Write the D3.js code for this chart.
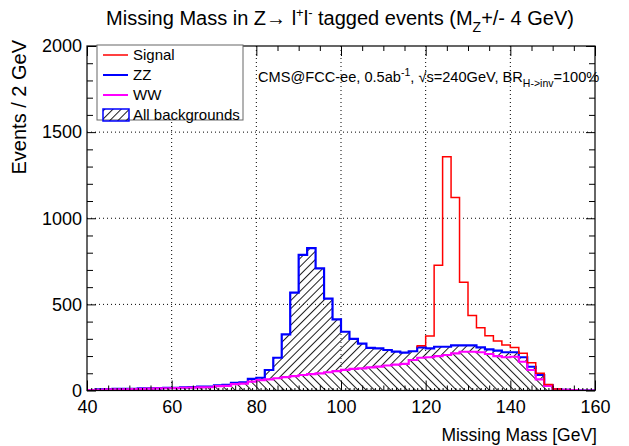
<!DOCTYPE html>
<html><head><meta charset="utf-8">
<script src="https://cdn.jsdelivr.net/npm/d3@7"></script>
<style>
body{margin:0;background:#fff}
text{font-family:"Liberation Sans",Arial,Helvetica,sans-serif}
</style>
</head><body>
<svg id="c" width="629" height="446"></svg>
<script>
// ---- data (2 GeV bins, lower edges) ----
const binLow = [40,42,44,46,48,50,52,54,56,58,60,62,64,66,68,70,72,74,76,78,
  80,82,84,86,88,90,92,94,96,98,100,102,104,106,108,110,112,114,116,118,
  120,122,124,126,128,130,132,134,136,138,140,142,144,146,148,150,152,154,156,158];
const binWidth = 2;
// All backgrounds (ZZ + WW stacked), blue outline
const totalBkg = [3,6,8,9,9,10,12,13,14,15,16,18,20,22,23,30,33,45,48,68,
  74,119,190,326,568,787,827,709,533,413,341,300,272,248,245,235,226,220,228,250,
  245,254,254,262,262,262,250,239,231,222,222,193,138,90,32,7,4,3,0,0];
// WW, magenta
const wwBkg = [2,4,6,6,7,8,10,11,12,13,14,16,17,18,19,25,27,37,40,52,
  60,65,71,78,84,90,95,100,106,113,120,125,129,134,139,145,150,155,177,190,
  193,200,206,216,225,225,222,212,200,193,196,167,119,65,26,7,4,2,0,0];
// Signal (drawn on top of backgrounds), red
const signalLow = [118,120,122,124,126,128,130,132,134,136,138,140,142,144,146,148,150];
const signalLine = [260,316,727,1357,1121,628,436,365,318,287,264,250,216,161,100,35,9];

const xMajor = [40,60,80,100,120,140,160];
const yMajor = [0,500,1000,1500,2000];
const legendLabels = ["Signal","ZZ","WW","All backgrounds"];

// ---- layout ----
const svg = d3.select("#c");
const L = 87, R = 595, T = 46, B = 390.5;
const x = d3.scaleLinear().domain([40,160]).range([L,R]);
const y = d3.scaleLinear().domain([0,2000]).range([B,T]);

const defs = svg.append("defs");
function hatch(id, angle){
  const p = defs.append("pattern").attr("id",id).attr("patternUnits","userSpaceOnUse")
    .attr("width",5.8).attr("height",10).attr("patternTransform","rotate("+angle+")");
  p.append("line").attr("x1",0.5).attr("y1",-1).attr("x2",0.5).attr("y2",11)
    .attr("stroke","#000").attr("stroke-width",0.9);
}
hatch("hFwd",45);
hatch("hBack",-45);
defs.append("clipPath").attr("id","clip").append("rect")
  .attr("x",L).attr("y",T).attr("width",R-L).attr("height",B-T);

// grid
const g = svg.append("g");
g.selectAll(".gx").data(xMajor.slice(1,-1)).enter().append("line")
  .attr("x1",d=>x(d)).attr("x2",d=>x(d)).attr("y1",T).attr("y2",B)
  .attr("stroke","#000").attr("stroke-width",1).attr("stroke-dasharray","1,3");
g.selectAll(".gy").data(yMajor.slice(1,-1)).enter().append("line")
  .attr("x1",L).attr("x2",R).attr("y1",d=>y(d)).attr("y2",d=>y(d))
  .attr("stroke","#000").attr("stroke-width",1).attr("stroke-dasharray","1,3");

function steps(lows, vals){
  const pts = [];
  lows.forEach((lo,i)=>{ pts.push([lo,vals[i]]); pts.push([lo+binWidth,vals[i]]); });
  return pts;
}
const area = d3.area().x(d=>x(d[0])).y0(y(0)).y1(d=>y(d[1]));
const line = d3.line().x(d=>x(d[0])).y(d=>y(d[1]));

const plot = svg.append("g").attr("clip-path","url(#clip)");
const totPts = steps(binLow,totalBkg);
const wwPts = steps(binLow,wwBkg);
plot.append("path").attr("d",area(totPts)).attr("fill","url(#hFwd)");
plot.append("path").attr("d",area(wwPts)).attr("fill","#fff");
plot.append("path").attr("d",area(wwPts)).attr("fill","url(#hBack)");

const totLine = [[40,0]].concat(totPts,[[160,0]]);
const wwLine = [[40,0]].concat(wwPts,[[160,0]]);
plot.append("path").attr("d",line(totLine)).attr("fill","none")
  .attr("stroke","#0000ff").attr("stroke-width",2.2);
plot.append("path").attr("d",line(wwLine)).attr("fill","none")
  .attr("stroke","#ff00ff").attr("stroke-width",2.2);

const sigIdx0 = binLow.indexOf(signalLow[0]);
const sigIdx1 = binLow.indexOf(signalLow[signalLow.length-1]) + 1;
const sigPts = [[signalLow[0], totalBkg[sigIdx0]]].concat(
  steps(signalLow,signalLine), [[signalLow[signalLow.length-1]+binWidth, totalBkg[sigIdx1]]]);
plot.append("path").attr("d",line(sigPts)).attr("fill","none")
  .attr("stroke","#ff0000").attr("stroke-width",1.5);

// axes (ticks inside)
const fs = 18;
function styleAxis(sel){ sel.select(".domain").remove(); sel.selectAll("line").attr("stroke","#000"); }
const xb = svg.append("g").attr("transform","translate(0,"+B+")")
  .call(d3.axisBottom(x).tickValues(xMajor).tickSize(-10).tickPadding(10).tickFormat(d3.format("d")));
styleAxis(xb);
xb.selectAll("text").attr("font-size",fs).attr("fill","#000").attr("font-family","Liberation Sans, Arial, sans-serif");
svg.append("g").attr("transform","translate(0,"+B+")")
  .call(d3.axisBottom(x).tickValues(d3.range(45,160,5).filter(v=>v%20!==0)).tickSize(-5).tickFormat("")).call(styleAxis);
svg.append("g").attr("transform","translate(0,"+B+")")
  .call(d3.axisBottom(x).tickValues(d3.range(41,160,1).filter(v=>v%5!==0)).tickSize(-2.5).tickFormat("")).call(styleAxis);
// top ticks
svg.append("g").attr("transform","translate(0,"+T+")")
  .call(d3.axisTop(x).tickValues(xMajor).tickSize(-10).tickFormat("")).call(styleAxis);
svg.append("g").attr("transform","translate(0,"+T+")")
  .call(d3.axisTop(x).tickValues(d3.range(45,160,5).filter(v=>v%20!==0)).tickSize(-5).tickFormat("")).call(styleAxis);

const yl = svg.append("g").attr("transform","translate("+L+",0)")
  .call(d3.axisLeft(y).tickValues(yMajor).tickSize(-9).tickPadding(5).tickFormat(d3.format("d")));
styleAxis(yl);
yl.selectAll("text").attr("font-size",fs).attr("fill","#000").attr("font-family","Liberation Sans, Arial, sans-serif");
svg.append("g").attr("transform","translate("+L+",0)")
  .call(d3.axisLeft(y).tickValues(d3.range(100,2000,100).filter(v=>v%500!==0)).tickSize(-6).tickFormat("")).call(styleAxis);
svg.append("g").attr("transform","translate("+R+",0)")
  .call(d3.axisRight(y).tickValues(yMajor).tickSize(-9).tickFormat("")).call(styleAxis);
svg.append("g").attr("transform","translate("+R+",0)")
  .call(d3.axisRight(y).tickValues(d3.range(100,2000,100).filter(v=>v%500!==0)).tickSize(-6).tickFormat("")).call(styleAxis);

// frame
svg.append("rect").attr("x",L).attr("y",T).attr("width",R-L).attr("height",B-T)
  .attr("fill","none").attr("stroke","#000").attr("stroke-width",1.2);

// axis titles
svg.append("text").attr("x",597).attr("y",441).attr("text-anchor","end")
  .attr("font-size",17.5).text("Missing Mass [GeV]");
svg.append("text").attr("transform","translate(26,40) rotate(-90)").attr("text-anchor","end")
  .attr("font-size",20).text("Events / 2 GeV");

// title
const title = svg.append("text").attr("x",340).attr("y",25).attr("text-anchor","middle").attr("font-size",20);
title.append("tspan").text("Missing Mass in Z\u2192 l");
title.append("tspan").attr("font-size",13).attr("dy",-8).text("+");
title.append("tspan").attr("dy",8).text("l");
title.append("tspan").attr("font-size",13).attr("dy",-8).text("-");
title.append("tspan").attr("dy",8).text(" tagged events (M");
title.append("tspan").attr("font-size",14).attr("dy",7).text("Z");
title.append("tspan").attr("dy",-7).text("+/- 4 GeV)");

// annotation
const ann = svg.append("text").attr("x",258).attr("y",82).attr("font-size",14.6);
ann.append("tspan").text("CMS@FCC-ee, 0.5ab");
ann.append("tspan").attr("font-size",10.5).attr("dy",-6).text("-1");
ann.append("tspan").attr("dy",6).text(", \u221As=240GeV, BR");
ann.append("tspan").attr("font-size",10.5).attr("dy",5).text("H->inv");
ann.append("tspan").attr("dy",-5).text("=100%");

// legend
const lg = svg.append("g");
lg.append("rect").attr("x",97).attr("y",45).attr("width",146).attr("height",75)
  .attr("fill","#fff").attr("stroke","#666").attr("stroke-width",1);
const ly = [55,75,95,115];
const lcol = ["#ff0000","#0000ff","#ff00ff"];
legendLabels.forEach((lab,i)=>{
  if(i<3){
    lg.append("line").attr("x1",103).attr("x2",128).attr("y1",ly[i]).attr("y2",ly[i])
      .attr("stroke",lcol[i]).attr("stroke-width",i===0?1.5:2);
  } else {
    lg.append("rect").attr("x",103).attr("y",ly[i]-6).attr("width",26).attr("height",12)
      .attr("fill","url(#hFwd)").attr("stroke","#0000ff").attr("stroke-width",1.5);
  }
  lg.append("text").attr("x",133).attr("y",ly[i]).attr("dy","0.35em").attr("font-size",15).text(lab);
});
</script>
</body></html>
